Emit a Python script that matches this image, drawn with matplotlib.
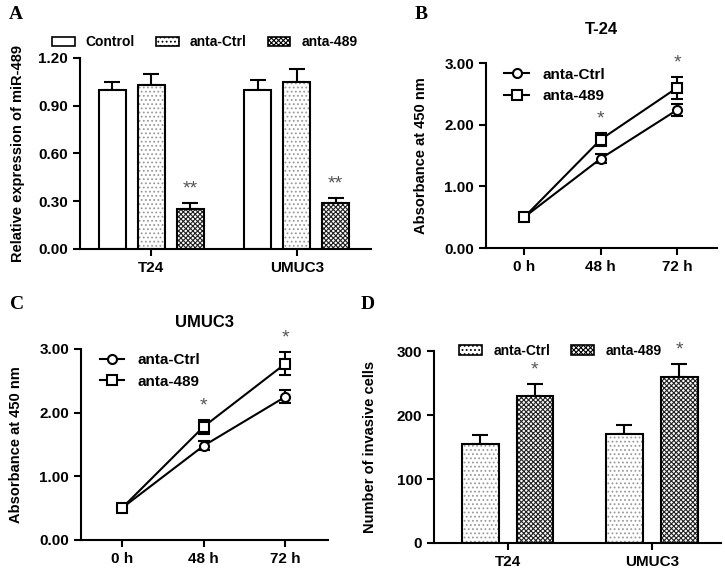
import matplotlib.pyplot as plt
import numpy as np
from matplotlib.patches import Patch
from matplotlib.lines import Line2D

plt.rcParams['font.family'] = 'Liberation Sans'
plt.rcParams['font.weight'] = 'bold'
plt.rcParams['font.size'] = 11
plt.rcParams['axes.linewidth'] = 1.5
plt.rcParams['hatch.linewidth'] = 0.8

# panel A: relative miR-489 expression
cells = ['T24', 'UMUC3']
groups_a = ['Control', 'anta-Ctrl', 'anta-489']
expr_mean = [[1.00, 1.03, 0.25], [1.00, 1.05, 0.29]]
expr_err = [[0.05, 0.07, 0.04], [0.06, 0.08, 0.03]]
expr_stars = ['', '', '**']

# panels B and C: absorbance over time
times = ['0 h', '48 h', '72 h']
t24_ctrl = [0.50, 1.45, 2.24]
t24_ctrl_err = [0.03, 0.07, 0.10]
t24_489 = [0.50, 1.76, 2.60]
t24_489_err = [0.03, 0.10, 0.18]
t24_stars = ['', '*', '*']
umuc_ctrl = [0.50, 1.48, 2.25]
umuc_ctrl_err = [0.03, 0.07, 0.10]
umuc_489 = [0.50, 1.78, 2.77]
umuc_489_err = [0.03, 0.11, 0.18]
umuc_stars = ['', '*', '*']

# panel D: invasion
groups_d = ['anta-Ctrl', 'anta-489']
inv_mean = [[155, 230], [170, 259]]
inv_err = [[13, 18], [14, 20]]
inv_stars = ['', '*']

styles = {
    'Control': dict(hatch='', hc='white'),
    'anta-Ctrl': dict(hatch='....', hc='#9a9a9a'),
    'anta-489': dict(hatch='xxxxxxx', hc='#222222'),
}

fig = plt.figure(figsize=(7.25, 5.69), dpi=100)


def style_axes(ax):
    for s in ['top', 'right']:
        ax.spines[s].set_visible(False)
    ax.tick_params(width=1.5, length=5)


def bar_panel(ax, groups, means, errs, stars, width, step, fmt):
    handles = []
    for gi, g in enumerate(groups):
        xs = np.arange(len(cells)) + (gi - (len(groups) - 1) / 2) * step
        vals = [m[gi] for m in means]
        es = [e[gi] for e in errs]
        st = styles[g]
        ax.bar(xs, vals, width, color='white', edgecolor=st['hc'], hatch=st['hatch'], linewidth=0, zorder=2)
        ax.bar(xs, vals, width, facecolor='none', edgecolor='black', linewidth=1.5, zorder=3)
        ax.errorbar(xs, vals, yerr=[np.zeros(len(es)), es], fmt='none', ecolor='black',
                    elinewidth=1.5, capsize=6, capthick=1.5, zorder=1)
        for x, v, e in zip(xs, vals, es):
            if stars[gi]:
                ax.annotate(stars[gi], (x, v + e), xytext=(0, 4), textcoords='offset points',
                            ha='center', va='bottom', color='#555555', fontsize=14, fontweight='normal')
        handles.append(Patch(facecolor='white', edgecolor='black', hatch=st['hatch'], linewidth=1.2, label=g))
    ax.set_xticks(range(len(cells)))
    ax.set_xticklabels(cells)
    ax.yaxis.set_major_formatter(plt.FormatStrFormatter(fmt))
    return handles


def line_panel(ax, ctrl, ctrl_err, anta, anta_err, stars, title, title_y):
    x = np.arange(len(times))
    for vals, errs, m in [(ctrl, ctrl_err, 'o'), (anta, anta_err, 's')]:
        ax.errorbar(x, vals, yerr=errs, color='black', lw=1.5, marker=m, ms=6.5, mfc='white',
                    mec='black', mew=1.5, capsize=4, capthick=1.5, zorder=3)
    for xi, v, e, s in zip(x, anta, anta_err, stars):
        if s:
            ax.annotate(s, (xi, v + e), xytext=(0, 4), textcoords='offset points',
                        ha='center', va='bottom', color='#555555', fontsize=14, fontweight='normal')
    ax.set_xticks(x)
    ax.set_xticklabels(times)
    ax.set_xlim(-0.5, 2.52)
    ax.set_ylim(0, 3)
    ax.set_yticks([0, 1, 2, 3])
    ax.yaxis.set_major_formatter(plt.FormatStrFormatter('%.2f'))
    ax.set_ylabel('Absorbance at 450 nm', fontweight='bold', fontsize=10.5, labelpad=12)
    ax.text(0.5, title_y, title, transform=ax.transAxes, ha='center', va='center', fontsize=12)
    handles = [Line2D([], [], color='black', lw=1.5, marker='o', ms=6.5, mfc='white', mew=1.5, label='anta-Ctrl'),
               Line2D([], [], color='black', lw=1.5, marker='s', ms=6.5, mfc='white', mew=1.5, label='anta-489')]
    ax.legend(handles=handles, loc='upper left', bbox_to_anchor=(0.02, 1.05), frameon=False,
              handlelength=1.6, handletextpad=0.9, labelspacing=0.5)
    style_axes(ax)


# A
axA = fig.add_axes([0.1103, 0.5624, 0.4014, 0.3357])
h = bar_panel(axA, groups_a, expr_mean, expr_err, expr_stars, 0.185, 0.267, '%.2f')
axA.set_xlim(-0.49, 1.51)
axA.set_ylim(0, 1.2)
axA.set_yticks([0, 0.3, 0.6, 0.9, 1.2])
axA.set_ylabel('Relative expression of miR-489', fontweight='bold', fontsize=10.5, labelpad=10)
axA.legend(handles=h, loc='lower left', bbox_to_anchor=(-0.14, 0.98), ncol=3, frameon=False, fontsize=10,
           handlelength=1.65, handleheight=0.7, columnspacing=1.5, handletextpad=0.8)
style_axes(axA)

# B
axB = fig.add_axes([0.6703, 0.5641, 0.3186, 0.3251])
line_panel(axB, t24_ctrl, t24_ctrl_err, t24_489, t24_489_err, t24_stars, 'T-24', 1.18)

# C
axC = fig.add_axes([0.1117, 0.0510, 0.3407, 0.3357])
line_panel(axC, umuc_ctrl, umuc_ctrl_err, umuc_489, umuc_489_err, umuc_stars, 'UMUC3', 1.14)

# D
axD = fig.add_axes([0.5986, 0.0457, 0.3959, 0.3374])
h = bar_panel(axD, groups_d, inv_mean, inv_err, inv_stars, 0.255, 0.38, '%d')
axD.set_xlim(-0.51, 1.48)
axD.set_ylim(0, 300)
axD.set_yticks([0, 100, 200, 300])
axD.set_ylabel('Number of invasive cells', fontweight='bold', fontsize=10.5, labelpad=14)
axD.legend(handles=h, loc='center left', bbox_to_anchor=(0.045, 1.0), ncol=2, frameon=False, fontsize=10,
           handlelength=1.65, handleheight=0.7, columnspacing=1.5, handletextpad=0.8)
style_axes(axD)

for lab, x, y in [('A', 0.012, 0.99), ('B', 0.572, 0.99), ('C', 0.014, 0.48), ('D', 0.497, 0.48)]:
    fig.text(x, y, lab, family='Liberation Serif', fontweight='bold', fontsize=14, va='top')

fig.savefig('out.png', dpi=100)
